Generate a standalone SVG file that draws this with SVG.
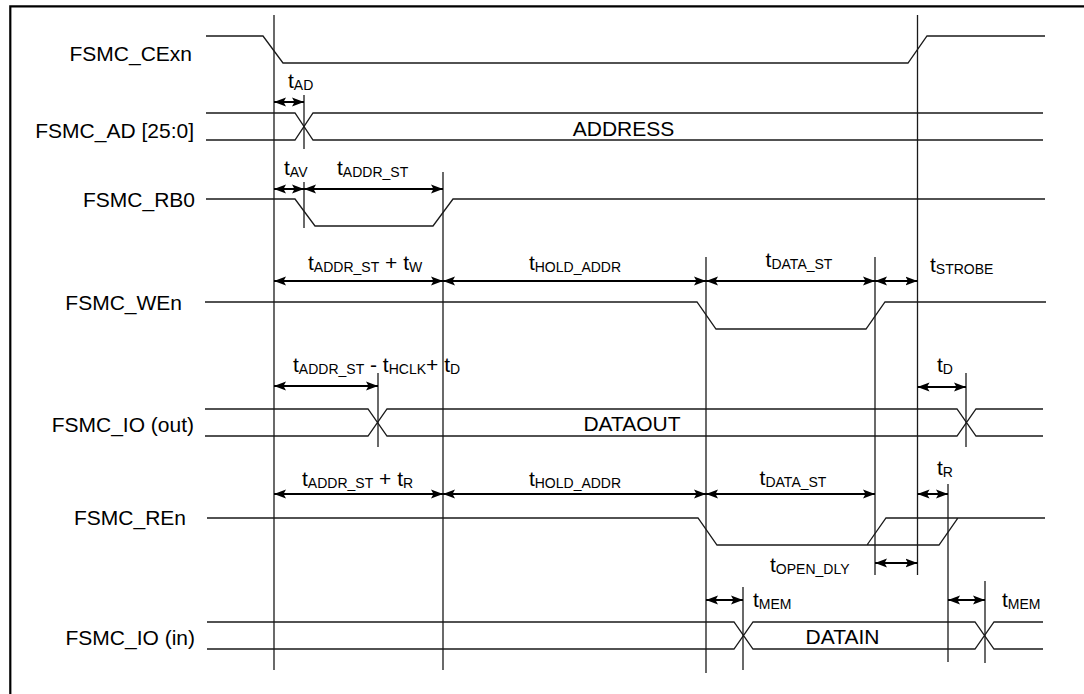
<svg xmlns="http://www.w3.org/2000/svg" width="1084" height="694" viewBox="0 0 1084 694">
<style>
.sig{fill:none;stroke:#1a1a1a;stroke-width:1.3}
.vl{stroke:#1a1a1a;stroke-width:1.3}
.dim{stroke:#000;stroke-width:2;marker-start:url(#ah);marker-end:url(#ah)}
.lbl{font-family:"Liberation Sans",Arial,sans-serif;font-size:21px;fill:#000}
.sub{font-size:14px}
.frame{stroke:#000;stroke-width:2.2;fill:none}
</style>
<defs>
<marker id="ah" viewBox="0 0 12 10" refX="12" refY="5" markerWidth="12" markerHeight="10" markerUnits="userSpaceOnUse" orient="auto-start-reverse">
<path d="M0,0.5 L12,5 L0,9.5 L2.5,5 Z" fill="#000"/>
</marker>
</defs>
<rect width="1084" height="694" fill="#fff"/>
<path class="frame" d="M10.3,694 V6.3 H1084"/>

<g id="sig-cexn">
<text class="lbl" x="192" y="61" text-anchor="end">FSMC_CExn</text>
<path class="sig" d="M206,36 H263 L283,63 H908 L927,36 H1045"/>
</g>
<g id="sig-ad">
<text class="lbl" x="194" y="137.5" text-anchor="end">FSMC_AD [25:0]</text>
<path class="sig" d="M206,113 H295 L313,140 H1043 M206,140 H295 L313,113 H1043"/>
<text class="lbl" x="623.5" y="136" text-anchor="middle">ADDRESS</text>
</g>
<g id="sig-rb0">
<text class="lbl" x="195" y="206.5" text-anchor="end">FSMC_RB0</text>
<path class="sig" d="M206,199 H295 L315,226 H433 L453,199 H1045"/>
</g>
<g id="sig-wen">
<text class="lbl" x="182" y="310" text-anchor="end">FSMC_WEn</text>
<path class="sig" d="M205,302 H697 L716,329 H866 L885,302 H1046"/>
</g>
<g id="sig-io-out">
<text class="lbl" x="194" y="432" text-anchor="end">FSMC_IO (out)</text>
<path class="sig" d="M205,409 H368 L387,436 H957 L976,409 H1043 M205,436 H368 L387,409 H957 L976,436 H1043"/>
<text class="lbl" x="632" y="431" text-anchor="middle">DATAOUT</text>
</g>
<g id="sig-ren">
<text class="lbl" x="186" y="525" text-anchor="end">FSMC_REn</text>
<path class="sig" d="M207,518 H698 L717,545 H939 L958,518 H1045 M867,545 L886,518 H958"/>
</g>
<g id="sig-io-in">
<text class="lbl" x="195" y="645" text-anchor="end">FSMC_IO (in)</text>
<path class="sig" d="M207,622 H734 L753,649 H975 L994,622 H1043 M207,649 H734 L753,622 H975 L994,649 H1043"/>
<text class="lbl" x="842.5" y="644" text-anchor="middle">DATAIN</text>
</g>

<g id="connectors">
<g id="verticals">
<line class="vl" x1="274" y1="15" x2="274" y2="670"/>
<line class="vl" x1="304" y1="95" x2="304" y2="149"/>
<line class="vl" x1="304" y1="182" x2="304" y2="228"/>
<line class="vl" x1="443" y1="172" x2="443" y2="670"/>
<line class="vl" x1="378" y1="373" x2="378" y2="447"/>
<line class="vl" x1="706" y1="257" x2="706" y2="673"/>
<line class="vl" x1="875" y1="257" x2="875" y2="575"/>
<line class="vl" x1="917.5" y1="15" x2="917.5" y2="575"/>
<line class="vl" x1="966" y1="373" x2="966" y2="447"/>
<line class="vl" x1="948" y1="484" x2="948" y2="662"/>
<line class="vl" x1="743" y1="587" x2="743" y2="670"/>
<line class="vl" x1="985" y1="581" x2="985" y2="663"/>
</g>
<g id="dimensions">
<line class="dim" x1="274" y1="102" x2="304" y2="102"/>
<line class="dim" x1="274" y1="189" x2="304" y2="189"/>
<line class="dim" x1="304" y1="189" x2="443" y2="189"/>
<line class="dim" x1="274" y1="281" x2="443" y2="281"/>
<line class="dim" x1="443" y1="281" x2="706" y2="281"/>
<line class="dim" x1="706" y1="281" x2="875" y2="281"/>
<line class="dim" x1="875" y1="281" x2="917.5" y2="281"/>
<line class="dim" x1="274" y1="386" x2="378" y2="386"/>
<line class="dim" x1="917.5" y1="387" x2="966" y2="387"/>
<line class="dim" x1="274" y1="494" x2="443" y2="494"/>
<line class="dim" x1="443" y1="494" x2="706" y2="494"/>
<line class="dim" x1="706" y1="494" x2="875" y2="494"/>
<line class="dim" x1="917.5" y1="494" x2="948" y2="494"/>
<line class="dim" x1="875" y1="563" x2="917.5" y2="563"/>
<line class="dim" x1="706" y1="600" x2="743" y2="600"/>
<line class="dim" x1="948" y1="600" x2="985" y2="600"/>
</g>
<g id="dim-labels">
<text class="lbl" x="288" y="88">t<tspan class="sub" dy="2">AD</tspan></text>
<text class="lbl" x="284" y="175">t<tspan class="sub" dy="2">AV</tspan></text>
<text class="lbl" x="337" y="175">t<tspan class="sub" dy="2">ADDR_ST</tspan></text>
<text class="lbl" x="308" y="270">t<tspan class="sub" dy="2">ADDR_ST</tspan><tspan dy="-2"> + t</tspan><tspan class="sub" dy="2">W</tspan></text>
<text class="lbl" x="575" y="270" text-anchor="middle">t<tspan class="sub" dy="2">HOLD_ADDR</tspan></text>
<text class="lbl" x="799" y="267" text-anchor="middle">t<tspan class="sub" dy="2">DATA_ST</tspan></text>
<text class="lbl" x="930" y="272">t<tspan class="sub" dy="2">STROBE</tspan></text>
<text class="lbl" x="293" y="372">t<tspan class="sub" dy="2">ADDR_ST</tspan><tspan dy="-2"> - t</tspan><tspan class="sub" dy="2">HCLK</tspan><tspan dy="-2">+ t</tspan><tspan class="sub" dy="2">D</tspan></text>
<text class="lbl" x="937" y="372">t<tspan class="sub" dy="2">D</tspan></text>
<text class="lbl" x="302" y="486">t<tspan class="sub" dy="2">ADDR_ST</tspan><tspan dy="-2"> + t</tspan><tspan class="sub" dy="2">R</tspan></text>
<text class="lbl" x="575" y="486" text-anchor="middle">t<tspan class="sub" dy="2">HOLD_ADDR</tspan></text>
<text class="lbl" x="793" y="485" text-anchor="middle">t<tspan class="sub" dy="2">DATA_ST</tspan></text>
<text class="lbl" x="937" y="475">t<tspan class="sub" dy="2">R</tspan></text>
<text class="lbl" x="770" y="572">t<tspan class="sub" dy="2">OPEN_DLY</tspan></text>
<text class="lbl" x="753" y="607">t<tspan class="sub" dy="2">MEM</tspan></text>
<text class="lbl" x="1002" y="607">t<tspan class="sub" dy="2">MEM</tspan></text>
</g>
</g>
</svg>
